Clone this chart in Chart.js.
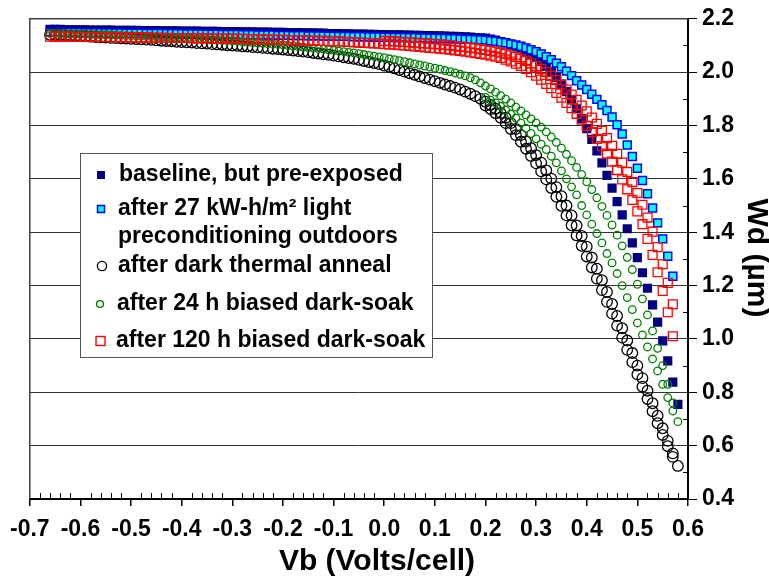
<!DOCTYPE html>
<html>
<head>
<meta charset="utf-8">
<script src="https://cdn.jsdelivr.net/npm/chart.js@4.4.1/dist/chart.umd.min.js"></script>
<style>
  html, body { margin: 0; padding: 0; background: #fff; }
  canvas { display: block; }
</style>
</head>
<body>
<canvas id="wdChart" width="769" height="576"></canvas>
<script>
// bias voltage grid (V/cell), first sweep
const vb = [
  -0.66, -0.65, -0.64, -0.63, -0.62, -0.61,
  -0.60, -0.59, -0.58, -0.57, -0.56, -0.55, -0.54, -0.53, -0.52, -0.51,
  -0.50, -0.49, -0.48, -0.47, -0.46, -0.45, -0.44, -0.43, -0.42, -0.41,
  -0.40, -0.39, -0.38, -0.37, -0.36, -0.35, -0.34, -0.33, -0.32, -0.31,
  -0.30, -0.29, -0.28, -0.27, -0.26, -0.25, -0.24, -0.23, -0.22, -0.21,
  -0.20, -0.19, -0.18, -0.17, -0.16, -0.15, -0.14, -0.13, -0.12, -0.11,
  -0.10, -0.09, -0.08, -0.07, -0.06, -0.05, -0.04, -0.03, -0.02, -0.01,
  0.00, 0.01, 0.02, 0.03, 0.04, 0.05, 0.06, 0.07, 0.08, 0.09,
  0.10, 0.11, 0.12, 0.13, 0.14, 0.15, 0.16, 0.17, 0.18, 0.19,
  0.20, 0.21, 0.22, 0.23, 0.24, 0.25, 0.26, 0.27, 0.28, 0.29,
  0.30, 0.31, 0.32, 0.33, 0.34, 0.35, 0.36, 0.37, 0.38, 0.39,
  0.40, 0.41, 0.42, 0.43, 0.44, 0.45, 0.46, 0.47, 0.48, 0.49,
  0.50, 0.51, 0.52, 0.53, 0.54, 0.55, 0.56, 0.57, 0.58
];

// second sweep grid (only where the repeat sweep separates)
const vbSweep2 = [
  0.00, 0.01, 0.02, 0.03, 0.04, 0.05, 0.06, 0.07, 0.08, 0.09,
  0.10, 0.11, 0.12, 0.13, 0.14, 0.15, 0.16, 0.17, 0.18, 0.19,
  0.20, 0.21, 0.22, 0.23, 0.24, 0.25, 0.26, 0.27, 0.28, 0.29,
  0.30, 0.31, 0.32, 0.33, 0.34, 0.35, 0.36, 0.37, 0.38, 0.39,
  0.40, 0.41, 0.42, 0.43, 0.44, 0.45, 0.46, 0.47, 0.48, 0.49,
  0.50, 0.51, 0.52, 0.53, 0.54, 0.55, 0.56, 0.57
];

// Wd (um) per series
const baseline = [
  2.160, 2.160, 2.160, 2.159, 2.159, 2.159,
  2.159, 2.159, 2.158, 2.158, 2.158, 2.158, 2.158, 2.157, 2.157, 2.157,
  2.157, 2.157, 2.156, 2.156, 2.156, 2.156, 2.155, 2.155, 2.155, 2.155,
  2.154, 2.154, 2.154, 2.154, 2.153, 2.153, 2.153, 2.153, 2.152, 2.152,
  2.152, 2.152, 2.151, 2.151, 2.151, 2.150, 2.150, 2.150, 2.149, 2.149,
  2.149, 2.148, 2.148, 2.148, 2.147, 2.147, 2.147, 2.146, 2.146, 2.145,
  2.145, 2.145, 2.144, 2.144, 2.143, 2.143, 2.143, 2.142, 2.142, 2.141,
  2.141, 2.140, 2.140, 2.140, 2.139, 2.139, 2.138, 2.138, 2.137, 2.137,
  2.136, 2.136, 2.135, 2.134, 2.134, 2.133, 2.132, 2.131, 2.130, 2.129,
  2.128, 2.124, 2.120, 2.115, 2.110, 2.104, 2.096, 2.087, 2.077, 2.065,
  2.055, 2.040, 2.022, 2.002, 1.980, 1.955, 1.927, 1.896, 1.862, 1.826,
  1.788, 1.748, 1.705, 1.660, 1.613, 1.565, 1.515, 1.465, 1.413, 1.360,
  1.305, 1.248, 1.190, 1.128, 1.063, 0.993, 0.918, 0.838, 0.755
];

const light27 = [
  2.150, 2.150, 2.150, 2.149, 2.149, 2.149,
  2.149, 2.148, 2.148, 2.148, 2.148, 2.147, 2.147, 2.147, 2.147, 2.146,
  2.146, 2.146, 2.146, 2.145, 2.145, 2.145, 2.145, 2.144, 2.144, 2.144,
  2.144, 2.143, 2.143, 2.143, 2.143, 2.142, 2.142, 2.142, 2.141, 2.141,
  2.141, 2.141, 2.140, 2.140, 2.140, 2.139, 2.139, 2.139, 2.139, 2.138,
  2.138, 2.138, 2.137, 2.137, 2.137, 2.136, 2.136, 2.136, 2.135, 2.135,
  2.135, 2.134, 2.134, 2.134, 2.133, 2.133, 2.133, 2.132, 2.132, 2.132,
  2.131, 2.131, 2.130, 2.130, 2.130, 2.129, 2.129, 2.128, 2.128, 2.127,
  2.127, 2.126, 2.126, 2.125, 2.125, 2.124, 2.123, 2.123, 2.122, 2.121,
  2.120, 2.118, 2.116, 2.113, 2.110, 2.106, 2.102, 2.097, 2.091, 2.084,
  2.077, 2.068, 2.058, 2.047, 2.034, 2.020, 2.004, 1.987, 1.968, 1.952,
  1.935, 1.917, 1.898, 1.878, 1.856, 1.832, 1.803, 1.768, 1.727, 1.684,
  1.640, 1.594, 1.544, 1.491, 1.435, 1.375, 1.310, 1.235, null
];

const thermal = [
  2.140, 2.139, 2.139, 2.138, 2.137, 2.136,
  2.135, 2.134, 2.133, 2.132, 2.131, 2.130, 2.129, 2.128, 2.127, 2.126,
  2.125, 2.124, 2.123, 2.122, 2.121, 2.119, 2.118, 2.117, 2.116, 2.114,
  2.113, 2.112, 2.111, 2.109, 2.108, 2.107, 2.105, 2.104, 2.103, 2.101,
  2.100, 2.099, 2.097, 2.096, 2.094, 2.093, 2.091, 2.090, 2.088, 2.087,
  2.085, 2.083, 2.081, 2.079, 2.077, 2.075, 2.072, 2.070, 2.067, 2.065,
  2.062, 2.059, 2.056, 2.053, 2.050, 2.046, 2.042, 2.038, 2.034, 2.030,
  2.025, 2.020, 2.014, 2.008, 2.002, 1.996, 1.990, 1.984, 1.978, 1.972,
  1.966, 1.960, 1.954, 1.948, 1.942, 1.935, 1.927, 1.919, 1.910, 1.900,
  1.889, 1.877, 1.863, 1.847, 1.829, 1.809, 1.787, 1.764, 1.740, 1.715,
  1.689, 1.661, 1.632, 1.601, 1.569, 1.535, 1.500, 1.463, 1.425, 1.386,
  1.346, 1.305, 1.263, 1.220, 1.176, 1.131, 1.086, 1.040, 0.994, 0.947,
  0.900, 0.853, 0.806, 0.759, 0.712, 0.665, 0.618, 0.571, 0.524
];

const thermalSweep2 = [
  null, null, null, null, null, null, null, null, null, null,
  null, null, null, null, null, null, null, null, null, null,
  1.875, 1.862, 1.846, 1.829, 1.809, 1.787, 1.764, 1.739, 1.713, 1.686,
  1.658, 1.628, 1.598, 1.566, 1.533, 1.499, 1.463, 1.426, 1.388, 1.349,
  1.309, 1.268, 1.226, 1.183, 1.139, 1.095, 1.050, 1.005, 0.959, 0.913,
  0.867, 0.821, 0.775, 0.729, 0.684, 0.640, 0.598, 0.558
];

const soak24 = [
  2.145, 2.145, 2.144, 2.144, 2.143, 2.143,
  2.142, 2.142, 2.141, 2.141, 2.140, 2.140, 2.139, 2.139, 2.138, 2.137,
  2.137, 2.136, 2.135, 2.134, 2.133, 2.132, 2.131, 2.130, 2.129, 2.128,
  2.127, 2.126, 2.125, 2.124, 2.123, 2.122, 2.121, 2.120, 2.119, 2.118,
  2.117, 2.116, 2.114, 2.113, 2.111, 2.110, 2.108, 2.107, 2.105, 2.104,
  2.102, 2.100, 2.098, 2.096, 2.094, 2.092, 2.090, 2.088, 2.086, 2.084,
  2.082, 2.079, 2.077, 2.074, 2.072, 2.069, 2.066, 2.063, 2.060, 2.057,
  2.054, 2.050, 2.047, 2.043, 2.039, 2.035, 2.031, 2.027, 2.023, 2.019,
  2.015, 2.011, 2.006, 2.002, 1.997, 1.992, 1.986, 1.979, 1.971, 1.960,
  1.948, 1.937, 1.925, 1.912, 1.899, 1.885, 1.869, 1.855, 1.840, 1.825,
  1.810, 1.794, 1.776, 1.757, 1.737, 1.715, 1.692, 1.668, 1.643, 1.617,
  1.589, 1.560, 1.529, 1.497, 1.463, 1.427, 1.389, 1.349, 1.306, 1.260,
  1.205, 1.150, 1.090, 1.030, 0.965, 0.900, 0.830, 0.760, 0.690
];

const soak24Sweep2 = [
  null, null, null, null, null, null, null, null, null, null,
  null, null, null, null, null, null, null, null, null, null,
  1.905, 1.895, 1.885, 1.872, 1.858, 1.843, 1.828, 1.810, 1.790, 1.770,
  1.750, 1.730, 1.710, 1.685, 1.660, 1.630, 1.600, 1.570, 1.540, 1.500,
  1.465, 1.430, 1.395, 1.360, 1.320, 1.285, 1.245, 1.200, 1.155, 1.110,
  1.060, 1.015, 0.970, 0.925, 0.880, 0.830, 0.780, 0.730
];

const soak120 = [
  2.133, 2.133, 2.133, 2.133, 2.133, 2.132,
  2.132, 2.132, 2.132, 2.132, 2.131, 2.131, 2.131, 2.131, 2.131, 2.130,
  2.130, 2.130, 2.130, 2.130, 2.129, 2.129, 2.129, 2.129, 2.128, 2.128,
  2.128, 2.128, 2.127, 2.127, 2.127, 2.127, 2.126, 2.126, 2.126, 2.126,
  2.126, 2.125, 2.125, 2.124, 2.124, 2.123, 2.123, 2.122, 2.122, 2.121,
  2.121, 2.120, 2.120, 2.119, 2.119, 2.118, 2.118, 2.117, 2.117, 2.116,
  2.116, 2.115, 2.114, 2.113, 2.112, 2.111, 2.110, 2.109, 2.108, 2.107,
  2.105, 2.104, 2.103, 2.101, 2.100, 2.098, 2.097, 2.095, 2.093, 2.091,
  2.090, 2.088, 2.086, 2.084, 2.082, 2.080, 2.077, 2.074, 2.071, 2.068,
  2.066, 2.062, 2.058, 2.053, 2.047, 2.040, 2.032, 2.023, 2.012, 2.000,
  1.987, 1.972, 1.956, 1.940, 1.922, 1.904, 1.885, 1.865, 1.844, 1.822,
  1.799, 1.775, 1.750, 1.723, 1.695, 1.665, 1.633, 1.598, 1.561, 1.521,
  1.478, 1.430, 1.375, 1.315, 1.250, 1.180, 1.100, 1.010, null
];

const soak120Sweep2 = [
  2.117, 2.116, 2.115, 2.114, 2.113, 2.112, 2.111, 2.109, 2.108, 2.107,
  2.105, 2.104, 2.102, 2.100, 2.098, 2.096, 2.094, 2.092, 2.089, 2.086,
  2.083, 2.080, 2.077, 2.073, 2.068, 2.063, 2.057, 2.050, 2.042, 2.033,
  2.023, 2.012, 2.000, 1.986, 1.970, 1.953, 1.935, 1.916, 1.896, 1.875,
  1.853, 1.830, 1.806, 1.780, 1.753, 1.724, 1.694, 1.661, 1.626, 1.588,
  1.547, 1.503, 1.455, 1.402, 1.344, 1.280, 1.210, 1.130
];

const seriesNames = [
  ['baseline, but pre-exposed'],
  ['after 27 kW-h/m\u00b2 light', 'preconditioning outdoors'],
  ['after dark thermal anneal'],
  ['after 24 h biased dark-soak'],
  ['after 120 h biased dark-soak']
];

const xTitle = 'Vb (Volts/cell)';
const yTitle = 'Wd (\u00b5m)';

const FONT = '"Liberation Sans", Arial, Helvetica, sans-serif';
Chart.defaults.font.family = FONT;
Chart.defaults.color = '#000';

function toPoints(xs, ys) {
  const pts = [];
  xs.forEach((v, i) => {
    if (ys[i] !== null && ys[i] !== undefined) pts.push({ x: v, y: ys[i] });
  });
  return pts;
}

const fmt1 = (v) => (Math.abs(v) < 1e-9 ? 0 : v).toFixed(1);

// legend box, minor ticks, frame and axis titles drawn on top
const decor = {
  id: 'decor',
  afterDraw(chart) {
    const { ctx, chartArea: a, scales: { x, y } } = chart;
    ctx.save();

    // plot frame (left + top)
    ctx.strokeStyle = '#404040';
    ctx.lineWidth = 1.5;
    ctx.beginPath();
    ctx.moveTo(a.left, a.bottom);
    ctx.lineTo(a.left, a.top);
    ctx.lineTo(a.right, a.top);
    ctx.stroke();

    // minor ticks, inside
    ctx.strokeStyle = '#000';
    ctx.lineWidth = 1;
    ctx.beginPath();
    for (let k = -35; k <= 30; k++) {
      if (k % 5 === 0) continue;
      const px = Math.round(x.getPixelForValue(k * 0.02)) + 0.5;
      ctx.moveTo(px, a.bottom);
      ctx.lineTo(px, a.bottom - 6);
    }
    for (let k = 5; k <= 21; k += 2) {
      const py = Math.round(y.getPixelForValue(k / 10)) + 0.5;
      ctx.moveTo(a.right, py);
      ctx.lineTo(a.right - 5, py);
    }
    ctx.stroke();

    // legend
    const box = { x: 80.5, y: 153.5, w: 352, h: 204 };
    ctx.fillStyle = '#fff';
    ctx.fillRect(box.x, box.y, box.w, box.h);
    ctx.strokeStyle = '#555';
    ctx.lineWidth = 1;
    ctx.strokeRect(box.x, box.y, box.w, box.h);

    const rowY = [175, 209, 266, 304, 341];
    const mx = 101;
    // markers
    ctx.fillStyle = '#000080';
    ctx.fillRect(mx - 4, rowY[0] - 4, 8, 8);
    ctx.fillStyle = '#00ffff';
    ctx.strokeStyle = '#0000ff';
    ctx.lineWidth = 1.5;
    ctx.fillRect(mx - 3.5, rowY[1] - 3.5, 7, 7);
    ctx.strokeRect(mx - 3.5, rowY[1] - 3.5, 7, 7);
    ctx.strokeStyle = '#000';
    ctx.lineWidth = 1.4;
    ctx.beginPath();
    ctx.arc(mx + 1, rowY[2], 4.6, 0, Math.PI * 2);
    ctx.stroke();
    ctx.strokeStyle = '#008000';
    ctx.beginPath();
    ctx.arc(mx - 1, rowY[3], 3.4, 0, Math.PI * 2);
    ctx.stroke();
    ctx.strokeStyle = '#ff0000';
    ctx.strokeRect(mx - 5, rowY[4] - 4.5, 9, 9);

    // labels
    ctx.fillStyle = '#000';
    ctx.font = 'bold 23px ' + FONT;
    ctx.textAlign = 'left';
    ctx.textBaseline = 'middle';
    ctx.fillText(seriesNames[0][0], 119, rowY[0]);
    ctx.fillText(seriesNames[1][0], 118, rowY[1]);
    ctx.fillText(seriesNames[1][1], 118, 237);
    ctx.fillText(seriesNames[2][0], 118, rowY[2]);
    ctx.fillText(seriesNames[3][0], 117, rowY[3]);
    ctx.fillText(seriesNames[4][0], 116, rowY[4]);

    // axis titles
    ctx.font = 'bold 30px ' + FONT;
    ctx.textAlign = 'center';
    ctx.fillText(xTitle, 377, 562);
    ctx.translate(756, 258);
    ctx.rotate(Math.PI / 2);
    ctx.fillText(yTitle, 0, 0);

    ctx.restore();
  }
};

new Chart(document.getElementById('wdChart'), {
  type: 'scatter',
  data: {
    datasets: [
      {
        label: seriesNames[0].join(' '),
        data: toPoints(vb, baseline),
        pointStyle: 'rect',
        pointRadius: 6.5,
        backgroundColor: '#000080',
        borderColor: '#000080',
        borderWidth: 0,
        order: 5
      },
      {
        label: seriesNames[1].join(' '),
        data: toPoints(vb, light27),
        pointStyle: 'rect',
        pointRadius: 5.6,
        backgroundColor: '#00ffff',
        borderColor: '#0000ff',
        borderWidth: 1.5,
        order: 4
      },
      {
        label: seriesNames[2].join(' '),
        data: toPoints(vb, thermal).concat(toPoints(vbSweep2, thermalSweep2)),
        pointStyle: 'circle',
        pointRadius: 5.3,
        backgroundColor: 'rgba(0,0,0,0)',
        borderColor: '#000000',
        borderWidth: 1.3,
        order: 3
      },
      {
        label: seriesNames[3].join(' '),
        data: toPoints(vb, soak24).concat(toPoints(vbSweep2, soak24Sweep2)),
        pointStyle: 'circle',
        pointRadius: 3.8,
        backgroundColor: 'rgba(0,0,0,0)',
        borderColor: '#008000',
        borderWidth: 1.3,
        order: 2
      },
      {
        label: seriesNames[4].join(' '),
        data: toPoints(vb, soak120).concat(toPoints(vbSweep2, soak120Sweep2)),
        pointStyle: 'rect',
        pointRadius: 6.3,
        backgroundColor: 'rgba(0,0,0,0)',
        borderColor: '#ff0000',
        borderWidth: 1.3,
        order: 1
      }
    ]
  },
  options: {
    responsive: false,
    animation: false,
    events: [],
    layout: { padding: { left: 28, top: 17, right: 0, bottom: 0 } },
    plugins: {
      legend: { display: false },
      tooltip: { enabled: false }
    },
    scales: {
      x: {
        type: 'linear',
        min: -0.7,
        max: 0.6,
        grid: { drawOnChartArea: false, drawTicks: true, tickLength: 7, color: '#000', lineWidth: 1.5 },
        border: { color: '#000', width: 2 },
        ticks: {
          stepSize: 0.1,
          autoSkip: false,
          maxRotation: 0,
          padding: 10,
          color: '#000',
          font: { size: 23, weight: 'bold' },
          callback: fmt1
        },
        afterFit: (s) => { s.height = 77; }
      },
      y: {
        position: 'right',
        min: 0.4,
        max: 2.2,
        grid: { color: '#333', lineWidth: 1, drawTicks: true, tickLength: 9, tickColor: '#000' },
        border: { color: '#000', width: 2 },
        ticks: {
          stepSize: 0.2,
          padding: 5,
          color: '#000',
          font: { size: 23, weight: 'bold' },
          callback: fmt1
        },
        afterFit: (s) => { s.width = 81; }
      }
    }
  },
  plugins: [decor]
});
</script>
</body>
</html>
